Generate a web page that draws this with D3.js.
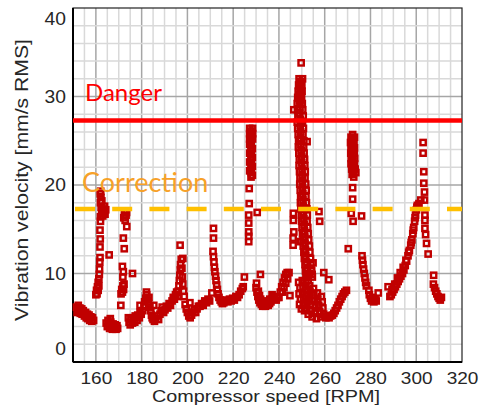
<!DOCTYPE html>
<html>
<head>
<meta charset="utf-8">
<script src="https://cdn.jsdelivr.net/npm/d3@7"></script>
<style>
  body { margin: 0; background: #fff; }
</style>
</head>
<body>
<div id="chart"></div>
<script>
// alarm limits [mm/s RMS]
const dangerLevel = 27.3;
const correctionLevel = 17.3;

const xTickValues = [160, 180, 200, 220, 240, 260, 280, 300, 320];
const yTickValues = [0, 10, 20, 30, 40];

// measured points [rpm, mm/s], grouped by speed range
const sweep150 = [[151.5,6.2],[151.8,5.6],[152.3,6.4],[152.5,5.8],[153,6.1],[153.2,5.5],[153.8,6.0],[154,5.4],[154.5,5.8],[155,5.2],[155.5,5.6],[155.8,5.0],[156.3,5.4],[156.5,4.9],[157,5.3],[157.3,4.7],[157.8,5.1],[158.2,4.6],[158.5,5.0],[159,4.7]];

const peak162 = [[160.0,7.6],[160.3,8.1],[160.5,7.7],[160.7,8.5],[161.0,8.1],[161.0,9.0],[161.3,8.6],[161.3,9.4],[161.5,9.9],[161.6,10.5],[161.7,11.3],[161.8,11.8],[161.8,13.0],[161.9,13.9],[161.8,14.9],[162.0,15.9],[162.0,16.4],[162.5,16.8],[163.0,16.5],[163.5,16.9],[164.0,16.7],[164.3,17.2],[163.8,17.6],[163.0,17.3],[162.3,17.5],[162.0,18.0],[162.6,18.2],[162.2,18.6],[161.9,19.0],[162.1,19.3],[165.8,12.1]];

const low167 = [[164.5,4.4],[165,4.0],[165.3,4.7],[165.8,4.2],[166,3.8],[166.3,4.9],[166.5,4.5],[166.8,4.0],[167.2,3.7],[167.5,4.3],[168,3.9],[168.4,4.2],[168.8,3.7],[169.2,4.1],[169.5,3.8]];

const peak173 = [[170.9,6.4],[171,7.7],[171.3,8.2],[171.6,7.9],[171.8,8.6],[172.1,8.2],[172.3,8.8],[171.8,9.6],[172,10.2],[171.6,10.8],[172.4,12.8],[172,14.0],[173.5,15.3],[172.8,16.0],[172.2,16.3],[172.6,16.5],[173.2,16.6],[173,17.0],[172.5,16.9],[173.4,16.9],[176.0,10.0]];

const sweep175 = [[174.2,5.0],[174.5,4.5],[175,4.2],[175.3,4.8],[176,4.4],[176.3,5.0],[177,4.5],[177.2,5.2],[178,4.7],[178.3,5.3],[179,5.0],[179.3,5.6],[179.8,5.4],[179.3,6.4],
  [180.5,5.8],[181,6.3],[181.3,6.8],[181.8,7.2],[182.2,7.6],[182.5,7.0],[183,6.6],[183.2,7.3],[183.6,6.2],[184,5.8],[184.3,5.3],[184.6,5.0],[182.1,7.9],[185.3,6.4],
  [185,4.8],[185.6,4.6],[186.2,4.9],[186.8,5.2],[187.4,4.8],[188,5.4],[188.5,5.8],[189,6.2],
  [189.6,5.6],[190.2,5.9],[190.8,6.3],[191.4,6.1],[192,6.6],[192.6,6.4],
  [193.3,6.9],[193.8,7.3],[194.3,7.1],[194.8,7.6],[195.3,7.9],[195.8,7.4]];

const peak197 = [[196,8.0],[196.3,8.6],[196.5,9.2],[196.7,9.8],[196.9,10.4],[197,11.0],[197.3,11.6],[197.6,10.6],[197.8,9.6],[198,8.8],[198.3,8.0],[198.6,7.4],[196.8,13.2],[198,11.7],[201.1,6.7],
  [199,6.5],[199.5,6.0],[200,5.6],[200.6,5.2],[201.2,5.0],[201.8,5.3],[202.4,5.6],[203,5.9],[203.6,5.6],[204.2,6.0],[204.8,6.3],
  [205.5,6.3],[206.2,6.6],[206.9,6.4],[207.6,6.9],[208.3,6.7],[209,7.1],[209.7,6.9],[210.7,7.8]];

const peak212 = [[211.4,15.1],[211.4,14.0],[211.2,12.5],[211.4,11.9],[211.6,11.3],[211.8,10.7],[212,10.2],[212.3,9.7],[212.5,9.2],[212.8,8.7],[213.1,8.2],[213.4,7.7],[213.8,7.3],[214.3,7.0],[214.8,6.8],[215.3,6.6],[215.9,6.7],[216.4,6.9],
  [217,7.0],[217.7,6.8],[218.4,7.1],[219.1,6.9],[219.8,7.2],[220.5,7.0],[221.2,7.4],[221.9,7.3],[222.6,7.6],[223.3,8.0],[224,8.3],[224.4,8.5],[224.9,9.6]];

const peak227 = [[227.2,26.4],[228.5,26.4],[227.2,25.8],[228.5,25.8],[227.2,25.2],[228.5,25.2],[227.2,24.6],[228.4,24.1],[227.2,23.6],[228.4,23.1],[227.2,22.6],[228.4,22.1],[227.2,21.6],[228.4,21.1],
  [227.8,26.1],[227.8,25.5],[227.8,24.9],[227.9,24.4],[227.8,23.9],[227.9,23.4],[227.8,22.9],[227.9,22.4],[227.8,21.9],[227.9,21.4],[227.8,20.9],
  [227.0,19.6],[227.0,17.9],[226.8,16.6],[230.5,16.9],[226.8,15.7],[226.8,14.7],[226.8,14.2],[226.8,13.6],[231.9,9.9]];

const low235 = [[230,8.4],[230.4,7.9],[230.8,7.4],[231.2,7.0],[231.7,6.7],[232.3,6.5],[232.9,6.3],[233.5,6.4],[234.1,6.3],[234.7,6.5],[235.3,6.4],[235.9,6.6],[236.5,6.8],[237,7.1],[237.6,7.4],[238.2,7.2],[238.8,7.0],[239.4,7.3],
  [230.2,8.9],[231,8.0],[231.5,7.5],[232,7.1],[233,6.8],[234,6.8],[235,6.9],[236,7.1],[237,7.6],
  [240,7.3],[240.6,7.9],[241.2,8.5],[241.8,9.0],[242.4,9.5],[243,9.9],[243.6,10.1],[244.8,7.5],
  [241.5,7.9],[242.2,8.4],[243,8.9],[243.8,9.4],[244.4,10.1]];

const peak250 = [[249.7,33.8],[249.4,31.7],[249.7,30.5],[249.4,29.6],[246.5,28.5],
  [248.8,32.0],[250.3,32.0],[248.6,31.3],[250.0,31.3],[248.4,30.6],[250.1,30.6],[248.2,29.9],[249.9,29.9],[248.0,29.2],[250.2,29.2],
  [248.1,28.5],[250.4,28.5],[248.3,27.8],[250.6,27.8],[248.0,27.1],[250.3,27.1],[248.2,26.4],[250.7,26.4],[248.4,25.7],[250.5,25.7],
  [248.6,25.0],[250.9,25.0],[248.5,24.3],[250.8,24.3],[248.7,23.6],[251.0,23.6],[248.9,22.9],[251.2,22.9],[248.8,22.2],[251.3,22.2],
  [249.0,21.5],[251.5,21.5],[249.2,20.8],[251.4,20.8],[249.1,20.1],[251.7,20.1],[249.3,19.4],[251.9,19.4],[249.5,18.7],[251.8,18.7],
  [249.4,18.0],[252.0,18.0],[249.6,17.3],[252.2,17.3],[249.8,16.6],[252.4,16.6],[249.9,15.9],[252.3,15.9],[250.1,15.2],[252.6,15.2],
  [250.3,14.5],[252.8,14.5],[250.5,13.8],[253.0,13.8],[250.6,13.1],[253.3,13.1],[250.9,12.4],[253.5,12.4],[251.1,11.7],[253.8,11.7],
  [251.4,11.0],[254.0,11.0],[251.6,10.3],[254.3,10.3],[251.8,9.6],[254.6,9.6],
  [249.4,31.6],[249.1,30.2],[249.2,28.8],[249.3,27.4],[249.5,26.0],[249.6,24.6],[249.9,23.2],[250.1,21.8],[250.2,20.4],[250.4,19.0],
  [250.6,17.6],[250.9,16.2],[251.2,14.8],[251.4,13.4],[251.7,12.0],[252.4,10.6],[252.8,9.2],
  [249.2,31.0],[249.0,29.5],[249.1,28.1],[249.3,26.7],[249.4,25.3],[249.7,23.9],[249.9,22.5],[250.2,21.1],[250.3,19.7],[250.5,18.3],
  [250.7,16.9],[251.0,15.5],[251.3,14.1],[251.6,12.7],[252.0,11.3],[252.5,9.9],
  [246.3,16.8],[246.3,16.0],[246.5,14.7],[246.2,14.0],[246.2,13.2],[249.4,13.6],[252.3,24.9],[257.5,17.0],[257.8,15.9],
  [254.9,11.2],[253.3,10.0],[254.5,9.9],[259.6,10.1],[261.8,9.3]];

const low257 = [[248.6,9.0],[249.2,8.4],[248.8,7.7],[249.4,7.1],[249.0,6.5],[249.8,6.0],[250.2,9.2],[250.5,8.5],[250.3,7.8],[250.7,7.2],[250.6,6.4],[251.2,5.8],
  [251.8,8.9],[252.0,8.2],[251.9,7.5],[252.3,6.8],[252.2,6.1],[252.8,5.4],[253.4,8.6],[253.6,7.9],[253.5,7.2],[253.9,6.5],[254.2,5.8],[254.5,5.1],
  [255.1,8.3],[255.2,7.6],[255.4,6.9],[255.8,6.2],[256.0,5.5],[256.4,4.9],[256.8,7.8],[257.0,7.1],[257.4,6.4],[257.8,5.7],[258.2,5.1],
  [258.5,7.4],[258.9,6.8],[259.2,6.1],[259.6,5.4],[260.1,5.2],
  [260.5,5.0],[261.2,5.1],[261.9,5.0],[262.6,5.2],[263.3,5.3],[264,5.5],[264.6,5.8],[265.2,6.1],[265.8,6.4],[266.4,6.8],[267,7.1],[267.6,7.4],[268.2,7.7],[268.8,7.9],[269.5,8.1]];

const peak272 = [[271.5,25.4],[273,25.4],[271.3,24.8],[272.8,24.8],[271.5,24.2],[273,24.2],[271.4,23.6],[272.9,23.6],[271.6,23.0],[273.1,23.0],[271.5,22.4],[273,22.4],[271.8,21.8],[273.3,21.8],[272,21.2],[273.6,21.4],
  [272.2,25.7],[272.2,25.1],[272.2,24.5],[272.1,23.9],[272.3,23.3],[272.2,22.7],[272.4,22.1],[272.6,21.5],
  [272.7,20.9],[272.2,19.7],[272.2,18.4],[271.6,16.8],[272.4,15.9],[276.1,16.5],[270.3,12.8],
  [276.3,12.0],[276.5,11.5],[276.7,11.0],[277,10.5],[277.3,10.0],[277.6,9.5],[277.9,9.0],[278.2,8.6],
  [279.3,8.1],[279.5,7.6],[280,7.2],[280.5,6.9],[281,7.3],[281.5,6.8],[282,7.1],[282.5,6.9],[283.4,7.8]];

const peak303 = [[287.7,8.5],[288.5,7.4],[289.1,7.6],[289.7,7.9],[290.3,8.2],[290.9,8.5],[291.5,8.8],[292.1,9.1],[292.7,9.4],[293.3,9.7],
  [294,10.0],[294.6,10.4],[295.2,10.9],[295.8,11.4],[296.4,12.0],[297,12.6],[297.6,13.2],
  [298.1,13.8],[298.5,14.5],[298.9,15.2],[299.3,15.9],[299.7,16.6],[300.1,17.2],[300.5,17.7],[301.2,17.9],[302,18.3],
  [289.4,8.2],[290.6,8.8],[291.8,9.5],[293,10.1],[294.3,10.7],[295.5,11.5],[296.7,12.4],[297.8,13.5],[298.7,14.9],[299.5,16.3],[300.3,17.5],
  [303,24.8],[303,23.6],[303.3,21.5],[303.3,20.2],[303.6,19.2],[303.6,18.3],[303.8,16.6],[303.8,16.0],[303.8,15.1],[304.1,14.4],[304.5,13.4],[305.2,12.2],[307.6,9.8],
  [307.5,8.8],[308,8.4],[308.5,8.0],[309,7.7],[309.5,7.4],[310,7.2],[310.5,7.0],[311,7.3]];

const allPoints = [].concat(sweep150, peak162, low167, peak173, sweep175, peak197, peak212,
  peak227, low235, peak250, low257, peak272, peak303);

// canvas
const canvWidth = 481, canvHeight = 415;
const margin = {top: 8, right: 19, bottom: 53, left: 73};
const plotWidth = canvWidth - margin.left - margin.right;
const plotHeight = canvHeight - margin.top - margin.bottom;

const svg = d3.select('#chart')
    .append('svg')
    .attr('width', canvWidth)
    .attr('height', canvHeight)
    .style('font-family', '"Liberation Sans", Arial, sans-serif');

const g = svg.append('g')
    .attr('transform', `translate(${margin.left},${margin.top})`);

const xScale = d3.scaleLinear().domain([150, 320]).range([0, plotWidth]);
const yScale = d3.scaleLinear().domain([0, 40]).range([plotHeight, 0]);

// grid
const grid = g.append('g');
grid.selectAll('.vgrid')
    .data(d3.range(155, 320, 5))
    .enter()
    .append('line')
    .attr('x1', d => xScale(d)).attr('x2', d => xScale(d))
    .attr('y1', 0).attr('y2', plotHeight)
    .attr('stroke', d => d % 20 === 0 ? '#a6a6a6' : '#d9d9d9')
    .attr('stroke-width', 1.5);
grid.selectAll('.hgrid')
    .data(d3.range(2, 40, 2))
    .enter()
    .append('line')
    .attr('x1', 0).attr('x2', plotWidth)
    .attr('y1', d => yScale(d)).attr('y2', d => yScale(d))
    .attr('stroke', d => d % 10 === 0 ? '#a6a6a6' : '#d9d9d9')
    .attr('stroke-width', 1.5);

// frame
g.append('rect')
    .attr('width', plotWidth).attr('height', plotHeight)
    .attr('fill', 'none').attr('stroke', '#222').attr('stroke-width', 1.2);
g.append('line')
    .attr('x1', 0).attr('x2', 0).attr('y1', 0).attr('y2', plotHeight)
    .attr('stroke', '#000').attr('stroke-width', 2);
g.append('line')
    .attr('x1', 0).attr('x2', plotWidth).attr('y1', plotHeight).attr('y2', plotHeight)
    .attr('stroke', '#000').attr('stroke-width', 2);

// measurement markers
const markSize = 5.3;
g.append('g')
    .selectAll('rect')
    .data(allPoints)
    .enter()
    .append('rect')
    .attr('x', d => xScale(d[0]) - markSize / 2)
    .attr('y', d => yScale(d[1]) - markSize / 2)
    .attr('width', markSize)
    .attr('height', markSize)
    .attr('fill', 'none')
    .attr('stroke', '#c00000')
    .attr('stroke-width', 2.4);

// limit lines
g.append('line')
    .attr('x1', 0).attr('x2', plotWidth)
    .attr('y1', yScale(dangerLevel)).attr('y2', yScale(dangerLevel))
    .attr('stroke', '#ff0000').attr('stroke-width', 4.5);
g.append('line')
    .attr('x1', 2).attr('x2', plotWidth)
    .attr('y1', yScale(correctionLevel)).attr('y2', yScale(correctionLevel))
    .attr('stroke', '#ffc000').attr('stroke-width', 4.5)
    .attr('stroke-dasharray', '20,17.2');

g.append('text')
    .attr('x', 12).attr('y', yScale(dangerLevel) - 19)
    .style('font-family', 'Lato, "Open Sans", sans-serif')
    .style('font-size', '24px')
    .attr('fill', '#ff0000')
    .text('Danger');
g.append('text')
    .attr('x', 9).attr('y', yScale(correctionLevel) - 17)
    .style('font-family', 'Lato, "Open Sans", sans-serif')
    .style('font-size', '27px')
    .attr('fill', '#f7a128')
    .text('Correction');

// axes (labels slightly widened like the source image)
const xAxis = g.append('g')
    .attr('transform', `translate(0,${plotHeight})`)
    .call(d3.axisBottom(xScale).tickValues(xTickValues).tickSize(0).tickPadding(10));
xAxis.select('.domain').remove();
xAxis.selectAll('text').style('font-size', '17px').attr('fill', '#262626')
    .style('font-family', '"Liberation Sans", Arial, sans-serif')
    .attr('transform', 'scale(1.12,1)');

const yLabelShift = {0: -13, 40: 11};
const yAxis = g.append('g')
    .call(d3.axisLeft(yScale).tickValues(yTickValues).tickSize(0).tickPadding(7));
yAxis.select('.domain').remove();
yAxis.selectAll('text').style('font-size', '17.5px').attr('fill', '#262626')
    .style('font-family', '"Liberation Sans", Arial, sans-serif')
    .attr('y', d => yLabelShift[d] || 0)
    .attr('x', -7 / 1.1)
    .attr('transform', 'scale(1.1,1)');

// axis titles
svg.append('text')
    .attr('x', 266)
    .attr('y', 402)
    .style('text-anchor', 'middle')
    .style('font-size', '17px')
    .attr('fill', '#262626')
    .attr('textLength', 228)
    .attr('lengthAdjust', 'spacingAndGlyphs')
    .text('Compressor speed [RPM]');
svg.append('text')
    .attr('transform', 'rotate(-90)')
    .attr('x', -180)
    .attr('y', 28)
    .style('text-anchor', 'middle')
    .style('font-size', '19px')
    .attr('fill', '#262626')
    .attr('textLength', 282)
    .attr('lengthAdjust', 'spacingAndGlyphs')
    .text('Vibration velocity [mm/s RMS]');
</script>
</body>
</html>
